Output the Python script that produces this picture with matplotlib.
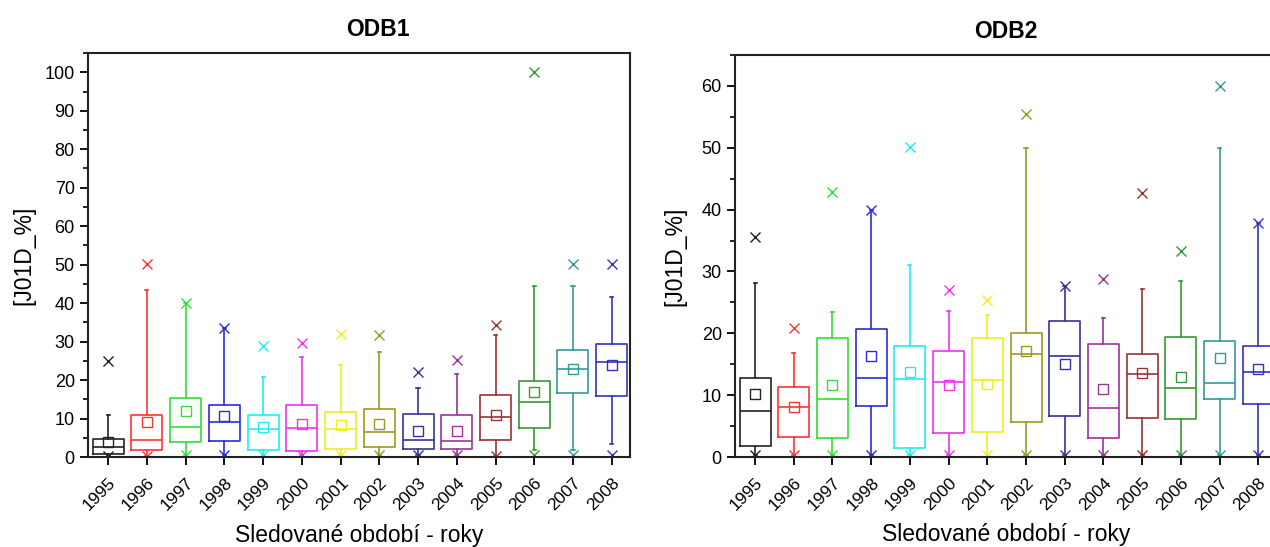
import numpy as np
import matplotlib
matplotlib.use("Agg")
import matplotlib.pyplot as plt
from matplotlib.ticker import MultipleLocator

plt.rcParams['font.family'] = ['Liberation Sans', 'DejaVu Sans']

years = [str(y) for y in range(1995, 2009)]
colors = ['#222222', '#ff3333', '#33dd33', '#2b2bdd', '#22eeee', '#ee33ee', '#eeee22',
          '#999922', '#333399', '#993399', '#993333', '#339933', '#339999', '#3333bb']

# ODB1
odb1_min = [0.3, 0.3, 0.5, 0.4, 0.5, 0.4, 0.4, 0.4, 0.4, 0.4, 0.3, 0.5, 0.5, 0.5]
odb1_wlo = [0.3, 0.3, 0.5, 0.4, 0.5, 0.4, 0.4, 0.4, 0.4, 0.4, 0.3, 1.8, 1.8, 3.3]
odb1_q1 = [0.7, 1.8, 3.9, 4.2, 1.8, 1.6, 2.1, 2.7, 2.1, 2.0, 4.4, 7.6, 16.7, 15.9]
odb1_med = [2.7, 4.3, 7.7, 9.1, 7.2, 7.6, 7.2, 6.4, 4.3, 4.2, 10.5, 14.4, 22.9, 24.8]
odb1_q3 = [4.6, 10.9, 15.3, 13.5, 10.9, 13.5, 11.8, 12.5, 11.1, 10.8, 16.1, 19.8, 27.9, 29.3]
odb1_whi = [10.9, 43.5, 40.0, 33.5, 20.9, 26.0, 24.0, 27.4, 18.0, 21.6, 31.8, 44.4, 44.4, 41.5]
odb1_max = [25.0, 50.2, 40.0, 33.5, 28.9, 29.6, 32.0, 31.6, 22.0, 25.1, 34.4, 100.0, 50.2, 50.2]
odb1_mean = [3.8, 9.0, 12.0, 10.7, 7.9, 8.5, 8.2, 8.6, 6.8, 6.8, 10.9, 17.0, 22.9, 24.0]

# ODB2
odb2_min = [0.3] * 14
odb2_wlo = [0.3] * 14
odb2_q1 = [1.8, 3.2, 3.1, 8.3, 1.5, 3.9, 4.0, 5.7, 6.7, 3.1, 6.3, 6.1, 9.3, 8.5]
odb2_med = [7.5, 8.1, 9.4, 12.8, 12.6, 12.1, 12.5, 16.6, 16.3, 7.9, 13.5, 11.2, 12.0, 13.8]
odb2_q3 = [12.8, 11.3, 19.2, 20.7, 17.9, 17.1, 19.2, 20.0, 22.0, 18.3, 16.6, 19.4, 18.8, 17.9]
odb2_whi = [28.1, 16.8, 23.4, 39.9, 31.1, 23.6, 22.9, 49.9, 27.6, 22.4, 27.1, 28.5, 49.9, 37.8]
odb2_max = [35.6, 20.8, 42.8, 39.9, 50.1, 27.0, 25.4, 55.4, 27.6, 28.8, 42.7, 33.3, 60.0, 37.8]
odb2_mean = [10.2, 8.1, 11.7, 16.4, 13.8, 11.7, 11.8, 17.1, 15.0, 11.0, 13.6, 13.0, 16.0, 14.2]


def draw_boxes(ax, mn, wlo, q1, med, q3, whi, mx, mean):
    for i in range(len(years)):
        c = colors[i]
        stats = [dict(med=med[i], q1=q1[i], q3=q3[i], whislo=wlo[i], whishi=whi[i],
                      mean=mean[i], fliers=[mn[i], mx[i]])]
        ax.bxp(stats, positions=[i], widths=0.8, showmeans=True, patch_artist=False,
               boxprops=dict(color=c, lw=1.2),
               medianprops=dict(color=c, lw=1.2),
               whiskerprops=dict(color=c, lw=1.2),
               capprops=dict(color=c, lw=1.2),
               capwidths=0.08,
               meanprops=dict(marker='s', markerfacecolor='none', markeredgecolor=c,
                              markersize=7, markeredgewidth=1.0),
               flierprops=dict(marker='x', markeredgecolor=c, markersize=7,
                               markeredgewidth=1.0, linestyle='none'))


def style_axis(ax, title, title_x, ymax, ylab_x):
    ax.set_title(title, fontsize=16.5, fontweight='bold', pad=12, x=title_x)
    ax.set_xlim(-0.52, 13.47)
    ax.set_ylim(0, ymax)
    ax.set_xticks(range(len(years)))
    ax.set_xticklabels(years, rotation=45, ha='right', rotation_mode='anchor', fontsize=12.5)
    ax.yaxis.set_major_locator(MultipleLocator(10))
    ax.yaxis.set_minor_locator(MultipleLocator(5))
    ax.tick_params(axis='y', labelsize=13, direction='out', length=6, width=1.3)
    ax.tick_params(axis='y', which='minor', direction='out', length=3.5, width=1.2)
    ax.tick_params(axis='x', direction='out', length=6, width=1.3, pad=7)
    for s in ax.spines.values():
        s.set_linewidth(1.5)
        s.set_color('#222222')
    ax.set_ylabel('[J01D_%]', fontsize=16.5)
    ax.yaxis.set_label_coords(ylab_x, 0.5)
    ax.set_xlabel('Sledované období - roky', fontsize=16.5)
    ax.xaxis.set_label_coords(0.5, -0.165)


fig = plt.figure(figsize=(12.7, 5.47), dpi=100)
ax1 = fig.add_axes([0.0693, 0.1645, 0.4267, 0.7385])
ax2 = fig.add_axes([0.5787, 0.1645, 0.4264, 0.7350])

draw_boxes(ax1, odb1_min, odb1_wlo, odb1_q1, odb1_med, odb1_q3, odb1_whi, odb1_max, odb1_mean)
draw_boxes(ax2, odb2_min, odb2_wlo, odb2_q1, odb2_med, odb2_q3, odb2_whi, odb2_max, odb2_mean)

style_axis(ax1, 'ODB1', 0.535, 105, -0.098)
style_axis(ax2, 'ODB2', 0.5, 65, -0.089)

fig.savefig('out.png', dpi=100)
